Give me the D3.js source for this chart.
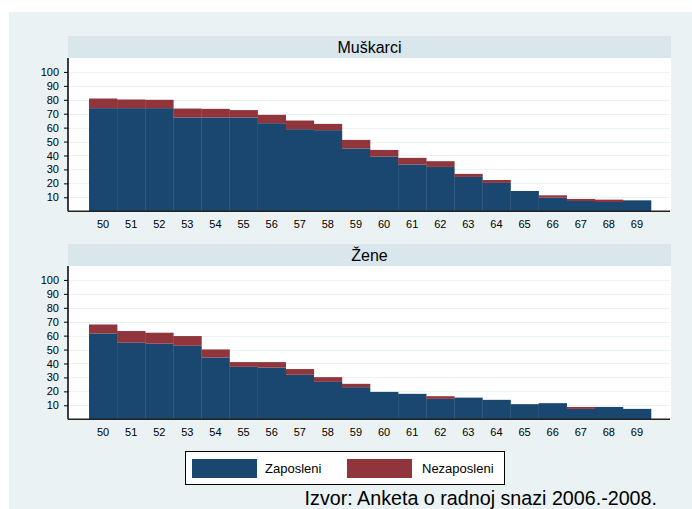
<!DOCTYPE html>
<html><head><meta charset="utf-8">
<script src="https://cdn.jsdelivr.net/npm/d3@7"></script>
<style>body{margin:0;background:#fff}svg{display:block}text{font-family:"Liberation Sans",Arial,sans-serif;fill:#000}</style>
</head><body><svg id="c" width="692" height="509"></svg>
<script>
const ages = [50,51,52,53,54,55,56,57,58,59,60,61,62,63,64,65,66,67,68,69];
const yTicks = [10,20,30,40,50,60,70,80,90,100];
const panelTitles = ["Muškarci", "Žene"];
const seriesNames = ["Zaposleni", "Nezaposleni"];
const menEmployed   = [74.0,74.0,74.0,67.3,67.3,67.3,63.2,58.9,58.2,45.0,39.2,33.5,31.8,24.6,20.3,14.5,9.7,7.3,6.6,7.8];
const menUnemployed = [6.9,6.2,6.0,6.4,6.2,5.3,6.0,6.2,4.5,6.2,4.8,4.8,4.1,2.2,2.1,0,1.7,1.5,1.7,0];
const womenEmployed   = [61.6,54.9,54.2,52.7,44.3,37.6,37.1,31.9,26.8,23.0,19.6,18.2,14.6,15.5,13.9,10.8,11.5,7.4,8.8,7.4];
const womenUnemployed = [6.4,8.4,7.9,7.0,5.8,3.4,3.9,4.1,3.4,2.4,0,0,1.9,0,0,0,0,1.4,0,0];
const sourceText = "Izvor: Anketa o radnoj snazi 2006.-2008.";

const colors = ["#1a476f", "#90353b"];
const svg = d3.select("#c");
svg.append("rect").attr("x",9).attr("y",12).attr("width",683).attr("height",497).attr("fill","#eaf2f3");

const plotL = 68, plotR = 671;
const x = d3.scaleBand().domain(ages).range([89, 651]).paddingInner(0).paddingOuter(0);
const panels = [
  {title: panelTitles[0], emp: menEmployed, unemp: menUnemployed, top: 58},
  {title: panelTitles[1], emp: womenEmployed, unemp: womenUnemployed, top: 266}
];
const plotH = 153.2;

panels.forEach(p => {
  const g = svg.append("g");
  const y = d3.scaleLinear().domain([0,110]).range([p.top + plotH, p.top]);
  g.append("rect").attr("x",plotL).attr("y",p.top-22).attr("width",plotR-plotL).attr("height",22).attr("fill","#d9e6eb");
  g.append("text").attr("x",(plotL+plotR)/2).attr("y",p.top-11).attr("dy","0.36em")
    .attr("text-anchor","middle").style("font-size","16px").text(p.title);
  g.append("rect").attr("x",plotL).attr("y",p.top).attr("width",plotR-plotL).attr("height",plotH).attr("fill","#fff");
  g.selectAll(".grid").data(yTicks).enter().append("line")
    .attr("x1",plotL).attr("x2",plotR-1).attr("y1",d=>Math.round(y(d))+0.5).attr("y2",d=>Math.round(y(d))+0.5)
    .attr("stroke","#eaf2f3").attr("stroke-width",1);
  const stacked = d3.stack().keys([0,1]).value((d,k)=> k===0 ? p.emp[d] : p.unemp[d])(d3.range(ages.length));
  stacked.forEach((s,si) => {
    g.selectAll(".b"+si).data(s).enter().append("rect")
      .attr("x",(d,i)=>x(ages[i]))
      .attr("width",x.bandwidth()+0.3)
      .attr("y",d=>y(d[1]))
      .attr("height",d=>Math.max(0,y(d[0])-y(d[1])))
      .attr("fill",colors[si]);
  });
  const ya = d3.axisLeft(y).tickValues(yTicks).tickSize(4).tickPadding(5);
  const yg = g.append("g").attr("transform",`translate(${plotL},0)`).call(ya);
  yg.select(".domain").attr("d",`M0,${p.top}V${p.top+plotH}`).attr("stroke","#000").attr("stroke-width",1.5);
  yg.selectAll(".tick line").attr("stroke","#000");
  yg.selectAll("text").style("font-size","11px").attr("fill","#000");
  const xa = d3.axisBottom(x).tickSize(0).tickPadding(9);
  const xg = g.append("g").attr("transform",`translate(0,${p.top+plotH})`).call(xa);
  xg.select(".domain").remove();
  xg.selectAll("text").style("font-size","11px").attr("fill","#000");
  g.append("line").attr("x1",plotL).attr("x2",plotR-1).attr("y1",p.top+plotH).attr("y2",p.top+plotH)
    .attr("stroke","#222").attr("stroke-width",1.5);
});

const lg = svg.append("g");
lg.append("rect").attr("x",185.5).attr("y",451.5).attr("width",319).attr("height",33).attr("fill","#fff").attr("stroke","#000").attr("stroke-width",1);
const legX = [[192,265],[347,422]];
seriesNames.forEach((n,i) => {
  lg.append("rect").attr("x",legX[i][0]).attr("y",459).attr("width",65).attr("height",19).attr("fill",colors[i]);
  lg.append("text").attr("x",legX[i][1]).attr("y",468.5).attr("dy","0.36em").style("font-size","13px").text(n);
});
svg.append("text").attr("x",657).attr("y",505).attr("text-anchor","end").style("font-size","19.7px").text(sourceText);
</script></body></html>
